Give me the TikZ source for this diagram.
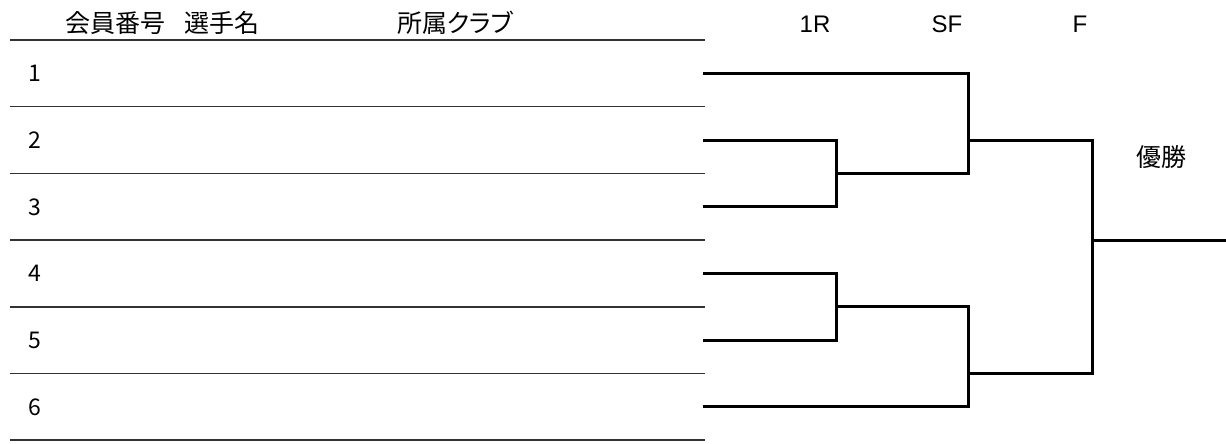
\documentclass[tikz,border=0pt]{standalone}
\usepackage{fontspec}
\setmainfont{Noto Sans CJK JP}
\newfontfamily\cjkp[RawFeature=+palt]{Noto Sans CJK JP}
\newfontfamily\latinsans{Liberation Sans}
\begin{document}
\begin{tikzpicture}[x=1pt,y=-1pt,
  sep/.style={line width=1.5pt,black!80},
  br/.style={line width=3pt,black,line cap=butt},
  hdr/.style={font=\fontsize{25}{27}\selectfont,inner sep=0pt},
  num/.style={font=\fontsize{23}{25}\selectfont,inner sep=0pt},
  rnd/.style={font=\latinsans\fontsize{24}{26}\selectfont,inner sep=0pt}]
\useasboundingbox (0,0) rectangle (1226,444);
% headers
\node[hdr] (h1) at (115.5,23) {会員番号};
\node[hdr] (h2) at (221.5,23) {選手名};
\node[hdr,font=\cjkp\fontsize{25}{27}\selectfont] (h3) at (455,23) {所属クラブ};
\node[rnd] (r1) at (815,24) {1R};
\node[rnd] (r2) at (947,24) {SF};
\node[rnd] (r3) at (1080,24) {F};
\node[hdr] (win) at (1161,157) {優勝};
% separator lines
\foreach \i/\y in {0/40,1/106.7,2/173.4,3/240.1,4/306.8,5/373.5,6/440.2}{
  \coordinate (sl\i) at (10,\y);
  \coordinate (sr\i) at (705,\y);
  \draw[sep] (sl\i) -- (sr\i);
}
% numbers and entry points
\foreach \i/\y in {1/73.4,2/140.1,3/206.8,4/273.5,5/340.2,6/406.9}{
  \node[num] (n\i) at (35,\y) {\i};
  \coordinate (p\i) at (703,\y);
}
% round 1
\coordinate (a23) at (836,140.1);
\coordinate (b23) at (836,206.8);
\coordinate (m23) at (836,173.4);
\coordinate (a45) at (836,273.5);
\coordinate (b45) at (836,340.2);
\coordinate (m45) at (836,306.8);
\draw[br] (p2) -- (a23) -- (b23) -- (p3);
\draw[br] (p4) -- (a45) -- (b45) -- (p5);
% semifinals
\coordinate (s1a) at (968,73.4);
\coordinate (s1b) at (968,173.4);
\coordinate (s1m) at (968,140.1);
\coordinate (s2a) at (968,306.8);
\coordinate (s2b) at (968,406.9);
\coordinate (s2m) at (968,373.5);
\draw[br] (p1) -- (s1a) -- (s1b) -- (m23);
\draw[br] (m45) -- (s2a) -- (s2b) -- (p6);
% final
\coordinate (fa) at (1092,140.1);
\coordinate (fb) at (1092,373.5);
\coordinate (fm) at (1092,240.1);
\coordinate (fe) at (1226,240.1);
\draw[br] (s1m) -- (fa) -- (fb) -- (s2m);
\draw[br] (fm) -- (fe);
\end{tikzpicture}
\end{document}
